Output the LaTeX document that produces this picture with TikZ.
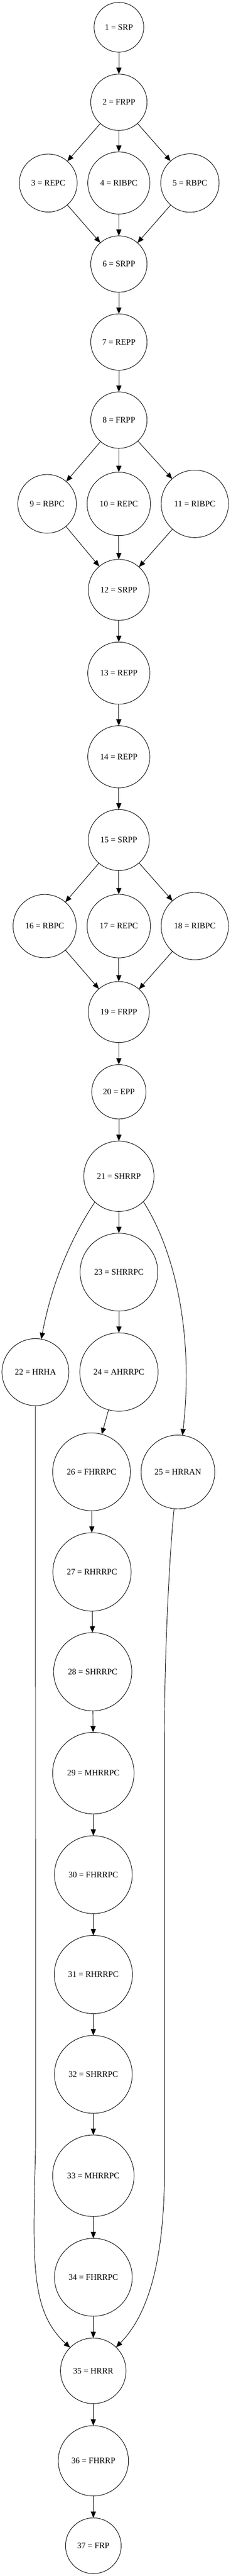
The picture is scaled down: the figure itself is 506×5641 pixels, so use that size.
\documentclass[tikz,border=0pt]{standalone}
\usepackage{fontspec}
\setmainfont{Liberation Serif}
\usetikzlibrary{arrows.meta}
\tikzset{
  nd/.style={circle, draw, line width=0.8pt, inner sep=0pt, outer sep=0pt,
    font=\fontsize{13.8}{16}\selectfont},
  edge/.style={line width=0.8pt, -{Triangle[length=10.5pt,width=8.5pt]}}
}
\begin{document}
\begin{tikzpicture}[x=0.75pt, y=-0.75pt]
\useasboundingbox (0,0) rectangle (506,5641);
\node[nd, minimum size=81.75pt]  (n1)  at (260.7,59.7)   {1 = SRP};
\node[nd, minimum size=92.55pt]  (n2)  at (260.7,224)    {2 = FRPP};
\node[nd, minimum size=95.25pt]  (n3)  at (105.8,400.8)  {3 = REPC};
\node[nd, minimum size=102pt]    (n4)  at (260.5,400.7)  {4 = RIBPC};
\node[nd, minimum size=96pt]     (n5)  at (416.5,400.8)  {5 = RBPC};
\node[nd, minimum size=92.55pt]  (n6)  at (260.7,578.2)  {6 = SRPP};
\node[nd, minimum size=92.55pt]  (n7)  at (260.7,749)    {7 = REPP};
\node[nd, minimum size=92.55pt]  (n8)  at (260.7,920)    {8 = FRPP};
\node[nd, minimum size=96.45pt]  (n9)  at (103.3,1103.3) {9 = RBPC};
\node[nd, minimum size=104.25pt] (n10) at (260.5,1103.5) {10 = REPC};
\node[nd, minimum size=110.7pt]  (n11) at (427.2,1103.3) {11 = RIBPC};
\node[nd, minimum size=100.2pt]  (n12) at (260.5,1291.7) {12 = SRPP};
\node[nd, minimum size=102pt]    (n13) at (260.5,1474)   {13 = REPP};
\node[nd, minimum size=102pt]    (n14) at (260.5,1657.2) {14 = REPP};
\node[nd, minimum size=100.2pt]  (n15) at (260.5,1839.5) {15 = SRPP};
\node[nd, minimum size=103.95pt] (n16) at (98,2028)      {16 = RBPC};
\node[nd, minimum size=104.25pt] (n17) at (260.5,2028)   {17 = REPC};
\node[nd, minimum size=110.7pt]  (n18) at (427.2,2028)   {18 = RIBPC};
\node[nd, minimum size=100.2pt]  (n19) at (260.5,2216.2) {19 = FRPP};
\node[nd, minimum size=89.25pt]  (n20) at (260.7,2390.8) {20 = EPP};
\node[nd, minimum size=115.5pt]  (n21) at (260.7,2575.8) {21 = SHRRP};
\node[nd, minimum size=109.95pt] (n22) at (77.7,3004.7)  {22 = HRHA};
\node[nd, minimum size=127.8pt]  (n23) at (260.8,2785.7) {23 = SHRRPC};
\node[nd, minimum size=128.7pt]  (n24) at (260.8,3004.5) {24 = AHRRPC};
\node[nd, minimum size=121.2pt]  (n25) at (390.2,3223.4) {25 = HRRAN};
\node[nd, minimum size=127.8pt]  (n26) at (200.7,3223)   {26 = FHRRPC};
\node[nd, minimum size=128.7pt]  (n27) at (201.8,3442.2) {27 = RHRRPC};
\node[nd, minimum size=128.55pt] (n28) at (203.3,3660.8) {28 = SHRRPC};
\node[nd, minimum size=133.95pt] (n29) at (204.7,3882.8) {29 = MHRRPC};
\node[nd, minimum size=127.95pt] (n30) at (204.7,4105.2) {30 = FHRRPC};
\node[nd, minimum size=128.55pt] (n31) at (204.7,4323.8) {31 = RHRRPC};
\node[nd, minimum size=127.95pt] (n32) at (204.7,4542.5) {32 = SHRRPC};
\node[nd, minimum size=133.95pt] (n33) at (204.7,4764.5) {33 = MHRRPC};
\node[nd, minimum size=127.95pt] (n34) at (204.7,4986.8) {34 = FHRRPC};
\node[nd, minimum size=107.7pt]  (n35) at (204.5,5191.7) {35 = HRRR};
\node[nd, minimum size=115.5pt]  (n36) at (204.7,5388.7) {36 = FHRRP};
\node[nd, minimum size=91.5pt]   (n37) at (204.7,5574.7) {37 = FRP};
% straight edges
\foreach \a/\b in {1/2,2/3,2/4,2/5,3/6,4/6,5/6,6/7,7/8,8/9,8/10,8/11,9/12,10/12,11/12,
  12/13,13/14,14/15,15/16,15/17,15/18,16/19,17/19,18/19,19/20,20/21,21/23,23/24,24/26,
  26/27,27/28,28/29,29/30,30/31,31/32,32/33,33/34,34/35,35/36,36/37}
  \draw[edge] (n\a) -- (n\b);
% curved edges
\draw[edge] (n21.-133) .. controls +(-61,91.5) and +(20.5,-108) .. (n22.80);
\draw[edge] (n21.-46) .. controls +(70.2,109.2) and +(25.3,-218.5) .. (n25.83);
\draw[edge] (n22.south) -- (78,4700) .. controls (72,4950) and (65.1,5059.1) .. (n35.135);
\draw[edge] (n25.-96) .. controls (373,3390) and (360.7,3600) .. (360.7,3800)
  -- (360.7,4750) .. controls (360.7,4900) and (340.8,5053.5) .. (n35.46);
\end{tikzpicture}
\end{document}
